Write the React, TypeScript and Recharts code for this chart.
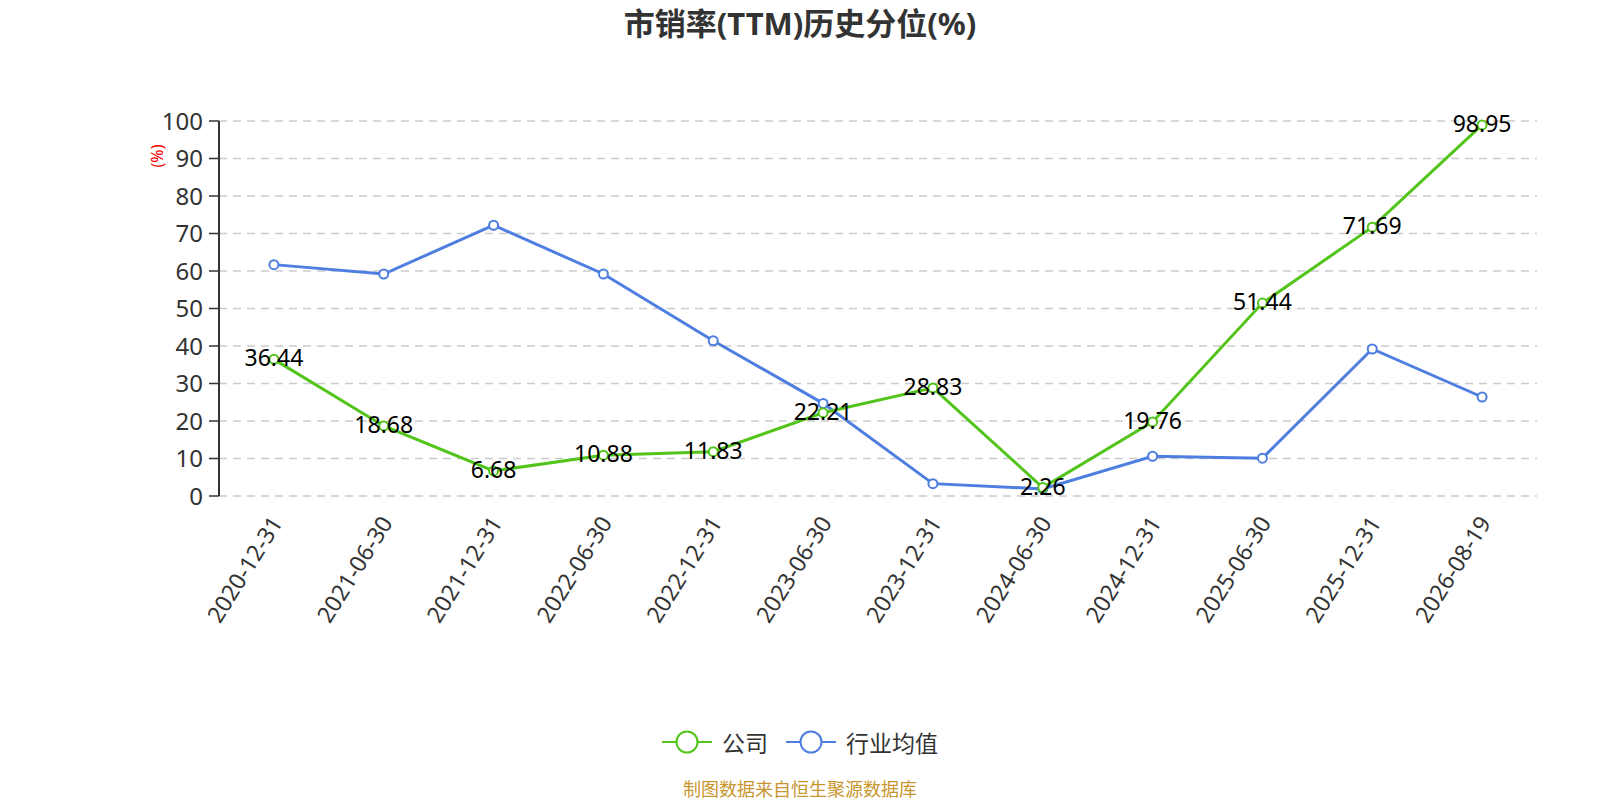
import React from "react";
import {
  LineChart,
  Line,
  XAxis,
  YAxis,
  CartesianGrid,
  LabelList,
} from "recharts";

const dates = [
  "2020-12-31",
  "2021-06-30",
  "2021-12-31",
  "2022-06-30",
  "2022-12-31",
  "2023-06-30",
  "2023-12-31",
  "2024-06-30",
  "2024-12-31",
  "2025-06-30",
  "2025-12-31",
  "2026-08-19",
];

// 公司
const company = [36.44, 18.68, 6.68, 10.88, 11.83, 22.21, 28.83, 2.26, 19.76, 51.44, 71.69, 98.95];
// 行业均值
const industry = [61.7, 59.2, 72.2, 59.2, 41.4, 24.7, 3.3, 1.9, 10.6, 10.1, 39.2, 26.4];

const yTicks = [0, 10, 20, 30, 40, 50, 60, 70, 80, 90, 100];

const GREEN = "#52c41a";
const BLUE = "#4e7fe0";
const FONT = "'Noto Sans', 'Noto Sans CJK SC', sans-serif";

const data = dates.map((d, i) => ({
  idx: i,
  date: d,
  company: company[i],
  industry: industry[i],
}));

const centers = dates.map((_, i) => i);
const bounds = [...centers.map((i) => i - 0.5), dates.length - 0.5];

const DateTick = (props: any) => {
  const { x, y, payload } = props;
  return (
    <text
      x={x + 2}
      y={y + 14}
      textAnchor="end"
      fill="#333"
      fontSize={23}
      fontFamily={FONT}
      transform={`rotate(-58, ${x + 2}, ${y + 14})`}
      dominantBaseline="central"
    >
      {dates[payload.value]}
    </text>
  );
};

const ValueLabel = (props: any) => {
  const { x, y, value } = props;
  return (
    <text
      x={x}
      y={y - 2}
      textAnchor="middle"
      dominantBaseline="central"
      fill="#000"
      fontSize={23}
      fontFamily={FONT}
    >
      {value}
    </text>
  );
};

const UnitLabel = (props: any) => {
  const { viewBox } = props;
  const cx = viewBox.x - 2;
  const cy = viewBox.y + 35;
  return (
    <text
      x={cx}
      y={cy}
      fill="#ff0000"
      fontSize={16}
      fontFamily={FONT}
      textAnchor="middle"
      dominantBaseline="central"
      transform={`rotate(-90, ${cx}, ${cy})`}
    >
      (%)
    </text>
  );
};

const LegendItem = ({ color, text }: { color: string; text: string }) => (
  <div style={{ display: "flex", alignItems: "center", margin: "0 9px" }}>
    <svg width={50} height={26}>
      <line x1={0} y1={13} x2={50} y2={13} stroke={color} strokeWidth={2} />
      <circle cx={25} cy={13} r={10.5} fill="#fff" stroke={color} strokeWidth={2} />
    </svg>
    <span style={{ marginLeft: 10, fontSize: 23, color: "#333" }}>{text}</span>
  </div>
);

export default function App() {
  return (
    <div
      style={{
        position: "absolute",
        left: 0,
        top: 0,
        width: 1600,
        height: 800,
        background: "#fff",
        fontFamily: FONT,
      }}
    >
      <div
        style={{
          position: "absolute",
          top: 5,
          width: 1600,
          textAlign: "center",
          fontSize: 31,
          lineHeight: "36px",
          fontWeight: "bold",
          color: "#333",
        }}
      >
        市销率(TTM)历史分位(%)
      </div>

      <LineChart
        width={1600}
        height={800}
        data={data}
        margin={{ top: 121, right: 63, bottom: 154, left: 159 }}
      >
        <CartesianGrid
          vertical={false}
          stroke="#cccccc"
          strokeDasharray="8 6"
          strokeWidth={1.5}
        />
        <XAxis
          dataKey="idx"
          type="number"
          domain={[-0.5, dates.length - 0.5]}
          ticks={bounds}
          tick={false}
          tickLine={{ stroke: "#333", strokeWidth: 2 }}
          tickSize={8}
          axisLine={{ stroke: "#333", strokeWidth: 2 }}
          height={0}
          interval={0}
        />
        <XAxis
          xAxisId="labels"
          dataKey="idx"
          type="number"
          domain={[-0.5, dates.length - 0.5]}
          ticks={centers}
          tick={<DateTick />}
          tickLine={false}
          axisLine={false}
          interval={0}
          height={150}
        />
        <YAxis
          type="number"
          domain={[0, 100]}
          ticks={yTicks}
          interval={0}
          width={60}
          tick={{ fill: "#333", fontSize: 24, fontFamily: FONT }}
          tickLine={{ stroke: "#333", strokeWidth: 1.5 }}
          tickSize={10}
          tickMargin={6}
          axisLine={{ stroke: "#333", strokeWidth: 2 }}
          label={<UnitLabel />}
        />
        <Line
          dataKey="industry"
          stroke={BLUE}
          strokeWidth={3}
          dot={{ r: 4.5, fill: "#fff", stroke: BLUE, strokeWidth: 2 }}
          isAnimationActive={false}
        />
        <Line
          dataKey="company"
          stroke={GREEN}
          strokeWidth={3}
          dot={{ r: 4.5, fill: "#fff", stroke: GREEN, strokeWidth: 2 }}
          isAnimationActive={false}
        >
          <LabelList dataKey="company" content={<ValueLabel />} />
        </Line>
      </LineChart>

      <div
        style={{
          position: "absolute",
          top: 725,
          width: 1600,
          display: "flex",
          justifyContent: "center",
        }}
      >
        <LegendItem color={GREEN} text="公司" />
        <LegendItem color={BLUE} text="行业均值" />
      </div>

      <div
        style={{
          position: "absolute",
          top: 780,
          width: 1600,
          textAlign: "center",
          fontSize: 18,
          lineHeight: "18px",
          color: "#c8962e",
        }}
      >
        制图数据来自恒生聚源数据库
      </div>
    </div>
  );
}
